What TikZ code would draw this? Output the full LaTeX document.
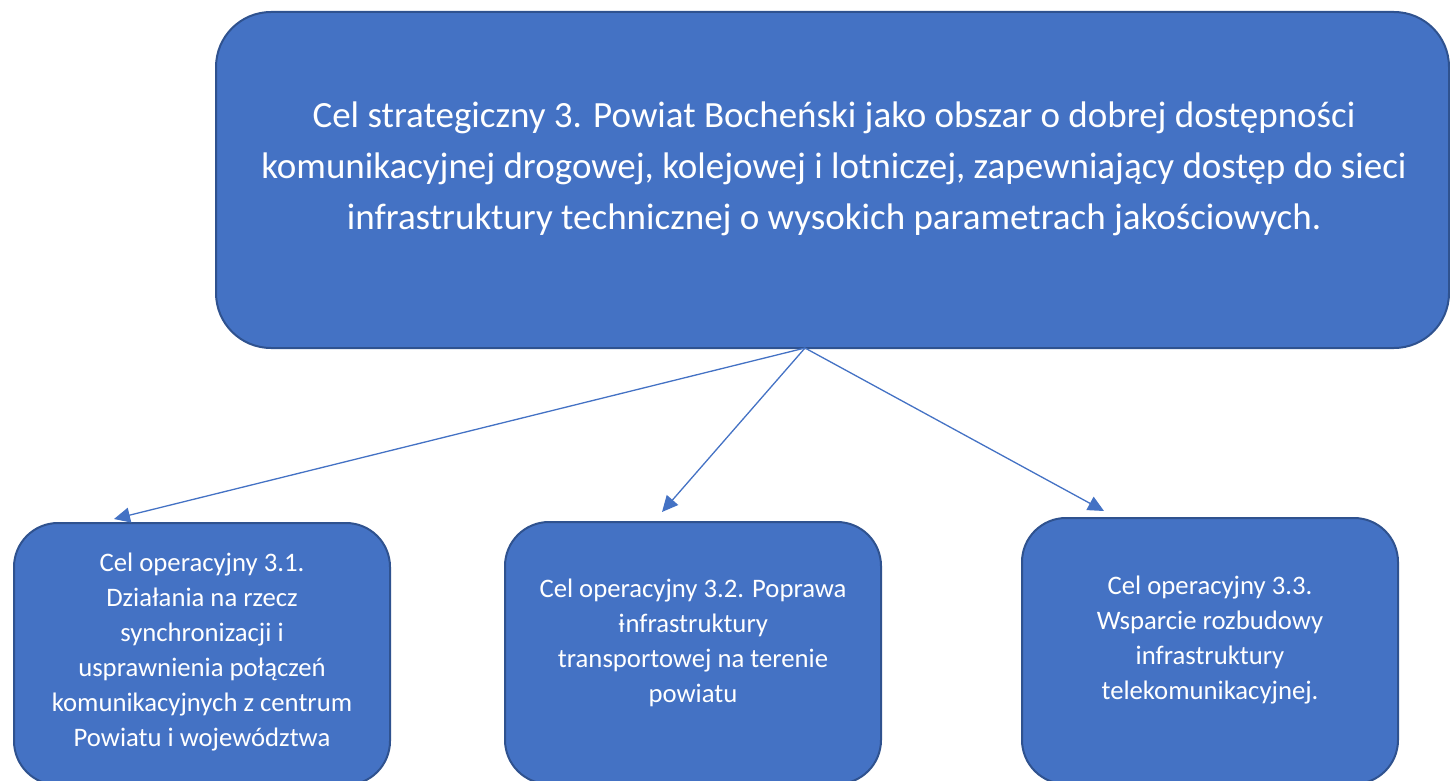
\documentclass[tikz,border=0pt]{standalone}
\usepackage{fontspec}
\setmainfont{Carlito}
\usetikzlibrary{arrows.meta}
\definecolor{boxfill}{HTML}{4472C4}
\definecolor{boxline}{HTML}{2F528F}
\tikzset{
  goalbox/.style={draw=boxline, fill=boxfill, line width=2pt, rectangle, inner sep=0pt},
  bigtxt/.style={text=white, align=center, font=\fontsize{37}{51}\selectfont, inner sep=0pt},
  smalltxt/.style={text=white, align=center, font=\fontsize{26.7}{35}\selectfont, inner sep=0pt},
  link/.style={draw=boxfill, line width=1.3pt, -{Triangle[length=16pt,width=15pt]}}
}
\begin{document}
\begin{tikzpicture}[x=1pt,y=-1pt]
\useasboundingbox (0,0) rectangle (1450,781);
\clip (0,0) rectangle (1450,781);
\node[goalbox, minimum width=1233pt, minimum height=336pt, rounded corners=55pt] (top) at (832.5,180) {};
\node[bigtxt] (toptxt) at (834,169) {Cel strategiczny 3. Powiat Bocheński jako obszar o dobrej dostępności\\komunikacyjnej drogowej, kolejowej i lotniczej, zapewniający dostęp do sieci\\infrastruktury technicznej o wysokich parametrach jakościowych.};
\node[goalbox, minimum width=376pt, minimum height=262pt, rounded corners=44pt] (b1) at (202,654) {};
\node[goalbox, minimum width=376pt, minimum height=262pt, rounded corners=44pt] (b2) at (693,653) {};
\node[goalbox, minimum width=376pt, minimum height=266pt, rounded corners=44pt] (b3) at (1210,651) {};
\node[smalltxt] (t1) at (202,652) {Cel operacyjny 3.1.\\Działania na rzecz\\synchronizacji i\\usprawnienia połączeń\\komunikacyjnych z centrum\\Powiatu i województwa};
\node[smalltxt] (t2) at (693,643) {Cel operacyjny 3.2. Poprawa\\ɨnfrastruktury\\transportowej na terenie\\powiatu};
\node[smalltxt] (t3) at (1210,640) {Cel operacyjny 3.3.\\Wsparcie rozbudowy\\infrastruktury\\telekomunikacyjnej.};
\coordinate (src) at (805,348);
\coordinate (e1) at (114,519);
\coordinate (e2) at (662,512);
\coordinate (e3) at (1104,511);
\draw[link] (src) -- (e1);
\draw[link] (src) -- (e2);
\draw[link] (src) -- (e3);
\end{tikzpicture}
\end{document}
